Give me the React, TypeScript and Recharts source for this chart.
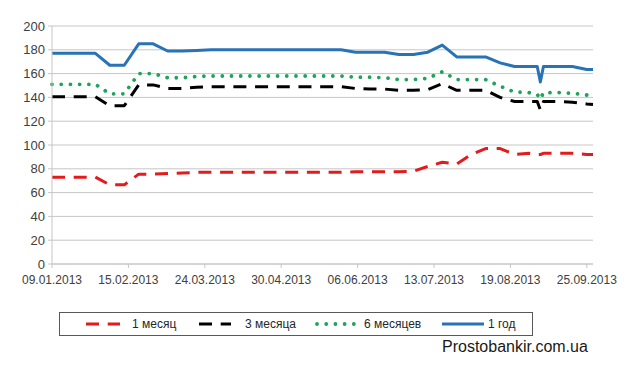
import { LineChart, Line, XAxis, YAxis, CartesianGrid, Legend } from "recharts";

// days since 09.01.2013 (mostly weekly readings, one short dip in early September)
const days = [
  0, 7, 14, 21, 28, 35, 42, 49, 56, 63, 70, 77, 84, 91, 98, 105, 112, 119, 126, 133, 140,
  147, 154, 161, 168, 175, 182, 189, 196, 203, 210, 217, 224, 231, 235, 236.5, 238, 245, 252, 259, 262,
];

const oneMonth = [
  73, 73, 73, 73, 66.5, 66.5, 75.5, 75.5, 76, 76.5, 77, 77, 77, 77, 77, 77, 77, 77, 77, 77, 77,
  77.5, 77.5, 77.5, 77.5, 78, 82, 85.5, 84, 92, 97, 97, 92, 93, 92, 92, 93, 93, 93, 92, 92,
];

const threeMonths = [
  140.5, 140.5, 140.5, 140.5, 133, 133, 150.5, 150.5, 147.5, 147.5, 148.5, 149, 149, 149, 149, 149, 149, 149, 149, 149, 149,
  147.5, 147, 147, 146, 146, 146.5, 151.5, 146, 146, 146, 140, 136.5, 136.5, 136.5, 129.5, 136.5, 136.5, 136, 134.5, 134,
];

const sixMonths = [
  151, 151, 151, 151, 143, 143, 160, 160, 156.5, 156.5, 157.5, 158, 158, 158, 158, 158, 158, 158, 158, 158, 158,
  157, 157, 156.5, 155, 155, 156, 161.5, 155, 155, 155, 149.5, 144.5, 144, 142.5, 138.5, 144, 144, 143.5, 142, 142,
];

const oneYear = [
  177, 177, 177, 177, 167, 167, 185, 185, 179, 179, 179.5, 180, 180, 180, 180, 180, 180, 180, 180, 180, 180,
  178, 178, 178, 176, 176, 178, 184, 174, 174, 174, 169, 166, 166, 166, 153, 166, 166, 166, 163.5, 163.5,
];

const tickDays = [0, 37, 74, 111, 148, 185, 222, 259];
const tickLabels = [
  "09.01.2013", "15.02.2013", "24.03.2013", "30.04.2013",
  "06.06.2013", "13.07.2013", "19.08.2013", "25.09.2013",
];
const yTicks = [0, 20, 40, 60, 80, 100, 120, 140, 160, 180, 200];

const data = days.map((day, i) => ({
  day,
  m1: oneMonth[i],
  m3: threeMonths[i],
  m6: sixMonths[i],
  y1: oneYear[i],
}));

const FONT = "'Liberation Sans', Arial, sans-serif";
const TEXT = "#404040";
const GRID = "#c6c6c6";

const series = [
  { key: "m1", name: "1 месяц", color: "#e31b1d", width: 3, dash: "13 8.7", cap: "butt" },
  { key: "m3", name: "3 месяца", color: "#000000", width: 3, dash: "13 8.7", cap: "butt" },
  { key: "m6", name: "6 месяцев", color: "#1fa35a", width: 3.8, dash: "0.01 9.2", cap: "round" },
  { key: "y1", name: "1 год", color: "#2873b6", width: 3, dash: undefined, cap: "butt" },
];

// legend layout inside the box: sample start, sample width, text start
const legendSlots = [
  { x: 26, w: 34, text: 72 },
  { x: 139, w: 32, text: 185 },
  { x: 255, w: 44, text: 304 },
  { x: 382, w: 42, text: 428 },
];

function LegendBox() {
  return (
    <div
      style={{
        position: "relative",
        width: 474,
        height: 24,
        border: "1px solid #595959",
        boxSizing: "border-box",
        fontFamily: FONT,
        fontSize: 12,
        color: "#262626",
        background: "#fff",
      }}
    >
      {series.map((s, i) => {
        const slot = legendSlots[i];
        return (
          <div key={s.key}>
            <svg
              width={slot.w}
              height={8}
              style={{ position: "absolute", left: slot.x, top: 7 }}
            >
              <line
                x1={s.cap === "round" ? 2 : 0}
                y1={4}
                x2={slot.w}
                y2={4}
                stroke={s.color}
                strokeWidth={s.width}
                strokeDasharray={s.dash}
                strokeLinecap={s.cap as any}
              />
            </svg>
            <span
              style={{ position: "absolute", left: slot.text, top: 4, lineHeight: "14px", whiteSpace: "nowrap" }}
            >
              {s.name}
            </span>
          </div>
        );
      })}
    </div>
  );
}

export default function App() {
  return (
    <div
      style={{
        position: "absolute",
        left: 0,
        top: 0,
        width: 640,
        height: 367,
        background: "#fff",
        fontFamily: FONT,
      }}
    >
      <LineChart
        width={640}
        height={367}
        data={data}
        margin={{ top: 26, right: 47, left: 0, bottom: 73 }}
      >
        <CartesianGrid vertical={false} stroke={GRID} strokeWidth={1} />
        <XAxis
          type="number"
          dataKey="day"
          domain={[0, 262]}
          ticks={tickDays}
          interval={0}
          tickFormatter={(v: number) => tickLabels[tickDays.indexOf(v)]}
          height={30}
          tickSize={4}
          tickMargin={7}
          tick={{ fontSize: 12, fill: TEXT, fontFamily: FONT }}
          axisLine={{ stroke: GRID }}
          tickLine={{ stroke: GRID }}
        />
        <YAxis
          domain={[0, 200]}
          ticks={yTicks}
          interval={0}
          width={52}
          tickSize={4}
          tickMargin={3}
          tick={{ fontSize: 13, fill: TEXT, fontFamily: FONT }}
          axisLine={{ stroke: GRID }}
          tickLine={{ stroke: GRID }}
        />
        <Legend
          verticalAlign="middle"
          align="center"
          layout="horizontal"
          content={() => <LegendBox />}
          wrapperStyle={{ left: 59, top: 312, width: 474, height: 24 }}
        />
        {series.map((s) => (
          <Line
            key={s.key}
            type="linear"
            dataKey={s.key}
            name={s.name}
            stroke={s.color}
            strokeWidth={s.width}
            strokeDasharray={s.dash}
            strokeLinecap={s.cap as any}
            strokeLinejoin="round"
            dot={false}
            activeDot={false}
            isAnimationActive={false}
          />
        ))}
      </LineChart>
      <div
        style={{
          position: "absolute",
          left: 442,
          top: 339,
          fontSize: 16,
          lineHeight: "16px",
          color: "#1a1a1a",
          fontFamily: FONT,
          whiteSpace: "nowrap",
        }}
      >
        Prostobankir.com.ua
      </div>
    </div>
  );
}
